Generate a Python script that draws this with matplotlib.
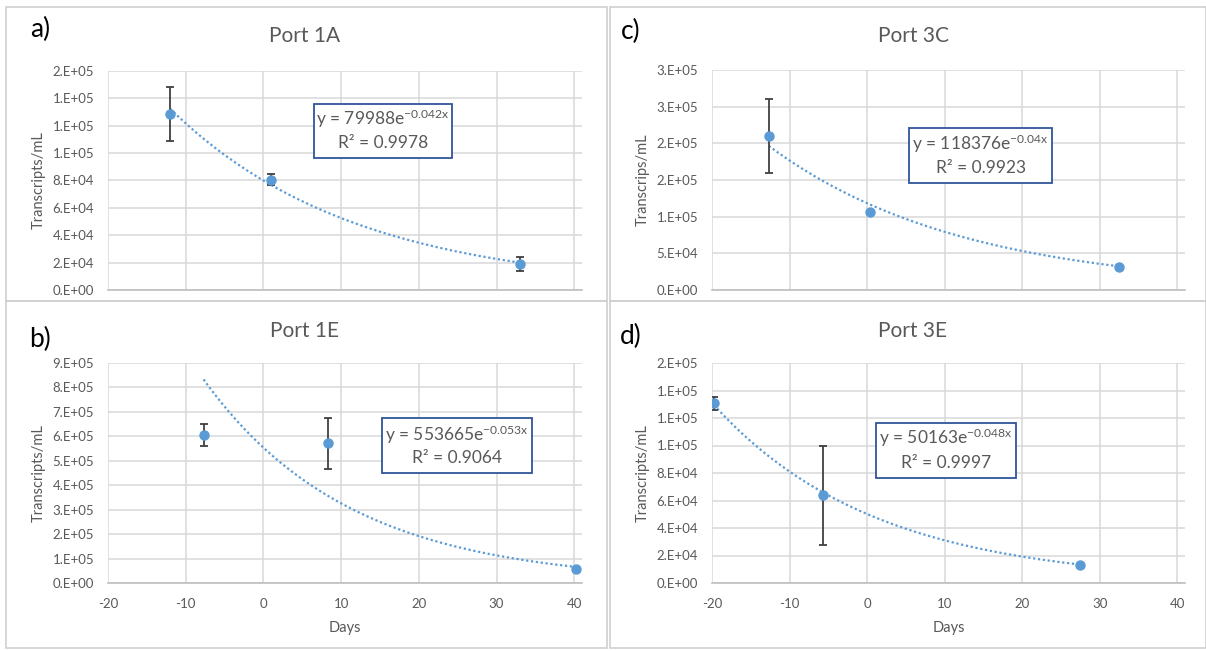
#Transcript decay at four sampling ports
#Exponential trendlines fitted in the spreadsheet, drawn here from their coefficients

import matplotlib.pyplot as plt
import numpy as np
from matplotlib.patches import Rectangle
from matplotlib.ticker import MultipleLocator, FuncFormatter

plt.rcParams['font.family'] = ['Lato', 'DejaVu Sans']
plt.rcParams['mathtext.fontset'] = 'custom'
plt.rcParams['mathtext.rm'] = 'Lato'
plt.rcParams['mathtext.it'] = 'Lato:italic'
plt.rcParams['mathtext.bf'] = 'Lato:bold'
plt.rcParams['axes.unicode_minus'] = False

#Port 1A
days_1a = [-12, 1, 33]
conc_1a = [1.285e5, 8.06e4, 1.92e4]
err_1a = [2.0e4, 4.2e3, 5.0e3]
fit_1a = (79988, -0.042, 0.9978)

#Port 1E
days_1e = [-7.7, 8.3, 40.2]
conc_1e = [6.04e5, 5.71e5, 5.6e4]
err_1e = [4.5e4, 1.05e5, 0]
fit_1e = (553665, -0.053, 0.9064)

#Port 3C
days_3c = [-12.67, 0.35, 32.5]
conc_3c = [2.1e5, 1.06e5, 3.18e4]
err_3c = [5.1e4, 0, 0]
fit_3c = (118376, -0.04, 0.9923)

#Port 3E
days_3e = [-19.75, -5.69, 27.4]
conc_3e = [1.306e5, 6.39e4, 1.31e4]
err_3e = [5.0e3, 3.6e4, 0]
fit_3e = (50163, -0.048, 0.9997)

BLUE = '#5B9BD5'
GREY = '#595959'
GRID = '#D9D9D9'
W, H = 1206, 651

def excel_sci(v, pos):
    #spreadsheet style "0.E+00" labels, rounding half up
    if v == 0:
        return '0.E+00'
    e = int(np.floor(np.log10(abs(v))))
    m = int(np.floor(v / 10**e + 0.5))
    if m >= 10:
        m //= 10
        e += 1
    return '{}.E{:+03d}'.format(m, e)

def px_box(l, t, r, b):
    return [l / W, 1 - b / H, (r - l) / W, (b - t) / H]

fig = plt.figure(figsize=(W / 100, H / 100), dpi=100)

#light frames round each chart
for l, t, r, b in [(6, 7, 607, 301), (610, 7, 1206, 301),
                   (6, 301, 607, 648), (610, 301, 1206, 648)]:
    fig.add_artist(Rectangle((l / W, 1 - b / H), (r - l) / W, (b - t) / H,
                             transform=fig.transFigure, fill=False,
                             edgecolor='#D0D0D0', linewidth=1.2))

panels = [
    ('a)', 'Port 1A', 'Transcripts/mL', days_1a, conc_1a, err_1a, fit_1a,
     (108, 71, 582, 290), 2e4, 1.6e5, False,
     (6.45, 9.62e4, 24.3, 1.361e5), (1.254e5, 1.072e5),
     (40, 29), (305, 36)),
    ('b)', 'Port 1E', 'Transcripts/mL', days_1e, conc_1e, err_1e, fit_1e,
     (108, 363, 582, 583), 1e5, 9e5, True,
     (15.3, 4.52e5, 34.55, 6.73e5), (6.06e5, 5.11e5),
     (40, 339), (304, 331)),
    ('c)', 'Port 3C', 'Transcrips/mL', days_3c, conc_3c, err_3c, fit_3c,
     (712, 70, 1185, 290), 5e4, 3e5, False,
     (5.44, 1.464e5, 23.9, 2.214e5), (2.0e5, 1.659e5),
     (631, 31), (913, 36)),
    ('d)', 'Port 3E', 'Transcripts/mL', days_3e, conc_3e, err_3e, fit_3e,
     (712, 363, 1185, 583), 2e4, 1.6e5, True,
     (1.15, 7.67e4, 19.15, 1.163e5), (1.054e5, 8.72e4),
     (631, 336), (912, 331)),
]

for (tag, title, ylab, days, conc, err, fit, rect, step, ymax, show_x,
     box, text_y, tag_xy, title_xy) in panels:
    ax = fig.add_axes(px_box(*rect))
    a, k, r2 = fit

    #data points with error bars
    ax.errorbar(days, conc, yerr=err, fmt='o', color=BLUE, markersize=6.5,
                ecolor='#404040', elinewidth=1.3, capsize=3.2, capthick=1.3,
                zorder=4)

    #exponential trendline over the span of the data
    xs = np.linspace(min(days), max(days), 200)
    ax.plot(xs, a * np.exp(k * xs), color=BLUE, linewidth=1.6,
            linestyle=(0, (1, 1.2)), zorder=3)

    ax.set_xlim(-20, 41)
    ax.set_ylim(0, ymax)
    ax.yaxis.set_major_locator(MultipleLocator(step))
    ax.yaxis.set_major_formatter(FuncFormatter(excel_sci))
    ax.set_xticks(np.arange(-20, 41, 10))
    ax.grid(True, color=GRID, linewidth=1.1)
    ax.set_axisbelow(True)
    for side in ['top', 'right', 'left']:
        ax.spines[side].set_visible(False)
    ax.spines['bottom'].set_color('#BFBFBF')
    ax.spines['bottom'].set_linewidth(1.2)
    ax.tick_params(length=0, labelsize=9.5, labelcolor=GREY)
    ax.tick_params(axis='y', pad=10)
    ax.tick_params(axis='x', pad=11, labelbottom=show_x)
    ax.set_ylabel(ylab, fontsize=10.5, color=GREY, labelpad=5)
    if show_x:
        ax.set_xlabel('Days', fontsize=10.5, color=GREY, labelpad=8)

    #trendline equation box
    x0, y0, x1, y1 = box
    ax.add_patch(Rectangle((x0, y0), x1 - x0, y1 - y0, facecolor='white',
                           edgecolor='#2F5597', linewidth=1.3, zorder=5))
    xc = (x0 + x1) / 2
    ax.text(xc, text_y[0], 'y = {}e$^{{\\mathrm{{{}x}}}}$'.format(a, k),
            ha='center', va='center', fontsize=12.5, color=GREY, zorder=6)
    ax.text(xc, text_y[1], 'R\u00b2 = {:.4f}'.format(r2), ha='center',
            va='center', fontsize=12.5, color=GREY, zorder=6)

    #chart title and panel letter
    fig.text(title_xy[0] / W, 1 - title_xy[1] / H, title, ha='center',
             va='center', fontsize=15, color=GREY)
    fig.text(tag_xy[0] / W, 1 - tag_xy[1] / H, tag, ha='center',
             va='center', fontsize=19, color='black')

fig.savefig('out.png', dpi=100)
